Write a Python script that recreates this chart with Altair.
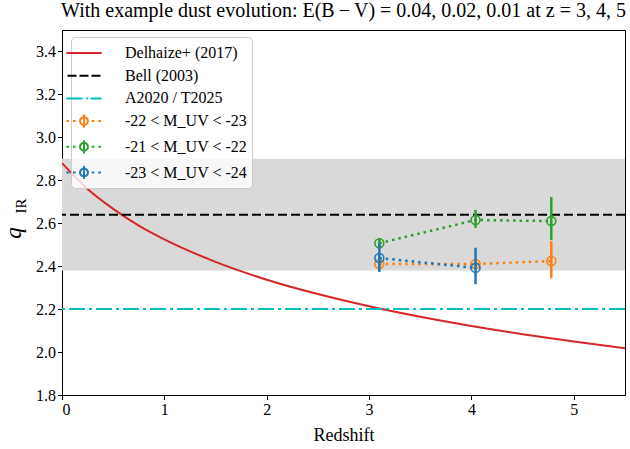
import altair as alt
import pandas as pd

# Delhaize+ (2017) relation sampled along redshift
curve_z = [0.0, 0.25, 0.5, 0.75, 1.0, 1.5, 2.0, 2.5, 3.0, 3.5, 4.0, 4.5, 5.0, 5.5]
curve_q = [2.880, 2.760, 2.667, 2.589, 2.525, 2.420, 2.337, 2.270, 2.213, 2.164,
           2.121, 2.083, 2.049, 2.018]

# Bell (2003) value with its scatter band, and the A2020 / T2025 value
bell_q = 2.64
bell_lo = 2.38
bell_hi = 2.90
a2020_q = 2.20

# Binned measurements (redshift, q_IR, lower and upper error bounds)
orange_z = [3.10, 4.04, 4.78]
orange_q = [2.410, 2.410, 2.424]
orange_lo = [2.392, 2.393, 2.344]
orange_hi = [2.428, 2.427, 2.517]

green_z = [3.10, 4.04, 4.78]
green_q = [2.507, 2.615, 2.610]
green_lo = [2.485, 2.578, 2.522]
green_hi = [2.531, 2.662, 2.722]

blue_z = [3.10, 4.04]
blue_q = [2.438, 2.392]
blue_lo = [2.373, 2.316]
blue_hi = [2.508, 2.486]

labels = [
    "Delhaize+ (2017)",
    "Bell (2003)",
    "A2020 / T2025",
    "-22 < M_UV < -23",
    "-21 < M_UV < -22",
    "-23 < M_UV < -24",
]
colors = ["#d62728", "#000000", "#00bfbf", "#ff7f0e", "#2ca02c", "#1f77b4"]

# legend glyphs as unit-scaled SVG paths
sym_solid = "M-1.6,0H1.6"
sym_dash = "M-1.5,0H-0.68M-0.41,0H0.41M0.68,0H1.5"
sym_dashdot = "M-1.6,0H-0.14M0.2,0H0.38M0.6,0H1.6"
sym_errdot = ("M-1.6,0H-1.36M-1,0H-0.76M0.7,0H0.94M1.3,0H1.54M0,-0.6V0.6"
              "M-0.36,0A0.36,0.36 0 1,0 0.36,0A0.36,0.36 0 1,0 -0.36,0")
shapes = [sym_solid, sym_dash, sym_dashdot, sym_errdot, sym_errdot, sym_errdot]

SERIF = "Liberation Serif"
LEGEND_FONT = "'Liberation Serif', 'Times New Roman', serif"
X_SCALE = alt.Scale(domain=[0, 5.5], nice=False, zero=False)
Y_SCALE = alt.Scale(domain=[1.8, 3.5], nice=False, zero=False)

axis_style = dict(
    grid=False,
    labelFont=SERIF,
    labelFontSize=16,
    labelColor="black",
    titleFont=SERIF,
    titleFontSize=18,
    titleFontWeight="normal",
    titleColor="black",
    tickColor="black",
    tickSize=4.5,
    tickWidth=1,
    domainColor="black",
    domainWidth=1,
    labelPadding=2,
    titlePadding=9,
)
x_axis = alt.Axis(values=[0, 1, 2, 3, 4, 5], format="d", title="Redshift", **axis_style)
y_axis = alt.Axis(values=[1.8, 2.0, 2.2, 2.4, 2.6, 2.8, 3.0, 3.2, 3.4], format=".1f", title=None,
                  **axis_style)

band_df = pd.DataFrame({"z0": [0.0], "z1": [5.5], "lo": [bell_lo], "hi": [bell_hi]})
band = alt.Chart(band_df).mark_rect(color="#d9d9d9").encode(
    x=alt.X("z0:Q", scale=X_SCALE, axis=x_axis),
    x2="z1:Q",
    y=alt.Y("lo:Q", scale=Y_SCALE, axis=y_axis),
    y2="hi:Q",
)

curve_df = pd.DataFrame({"z": curve_z, "q": curve_q})
curve = alt.Chart(curve_df).mark_line(color=colors[0], strokeWidth=2, interpolate="monotone", clip=True).encode(
    x=alt.X("z:Q", scale=X_SCALE),
    y=alt.Y("q:Q", scale=Y_SCALE),
)

bell = alt.Chart(pd.DataFrame({"q": [bell_q]})).mark_rule(
    color=colors[1], strokeWidth=2, strokeDash=[9, 4]
).encode(y=alt.Y("q:Q", scale=Y_SCALE))

a2020 = alt.Chart(pd.DataFrame({"q": [a2020_q]})).mark_rule(
    color=colors[2], strokeWidth=2, strokeDash=[16, 4, 3, 4]
).encode(y=alt.Y("q:Q", scale=Y_SCALE))


def binned(zs, qs, los, his, color):
    df = pd.DataFrame({"z": zs, "q": qs, "lo": los, "hi": his})
    base = alt.Chart(df)
    line = base.mark_line(color=color, strokeWidth=2.5, strokeDash=[2.5, 4]).encode(
        x=alt.X("z:Q", scale=X_SCALE), y=alt.Y("q:Q", scale=Y_SCALE)
    )
    err = base.mark_rule(color=color, strokeWidth=2.5).encode(
        x=alt.X("z:Q", scale=X_SCALE), y=alt.Y("lo:Q", scale=Y_SCALE), y2="hi:Q"
    )
    pts = base.mark_point(color=color, filled=False, size=80, strokeWidth=1.6, opacity=1).encode(
        x=alt.X("z:Q", scale=X_SCALE), y=alt.Y("q:Q", scale=Y_SCALE)
    )
    return [line, err, pts]


legend_def = alt.Legend(
    title=None,
    orient="none",
    legendX=9,
    legendY=7,
    padding=4,
    fillColor="rgba(255,255,255,0.8)",
    strokeColor="#cccccc",
    cornerRadius=4,
    labelFont=LEGEND_FONT,
    labelFontSize=16,
    labelFontWeight="normal",
    labelFontStyle="normal",
    labelColor="black",
    labelLimit=400,
    symbolSize=484,
    symbolStrokeWidth=2,
    symbolOffset=-3,
    labelOffset=29,
    rowPadding=2.7,
    symbolFillColor="transparent",
)

# off-domain points that only carry the legend entries
legend_df = pd.DataFrame({"series": labels, "z": [-1.0] * 6, "q": [2.5] * 6})
legend_layer = alt.Chart(legend_df).mark_point(filled=False, clip=True, opacity=1).encode(
    x=alt.X("z:Q", scale=X_SCALE),
    y=alt.Y("q:Q", scale=Y_SCALE),
    color=alt.Color("series:N", scale=alt.Scale(domain=labels, range=colors), sort=labels, legend=legend_def),
    shape=alt.Shape("series:N", scale=alt.Scale(domain=labels, range=shapes), sort=labels, legend=legend_def),
)

# y-axis title: italic q with IR subscript
q_text = alt.Chart(pd.DataFrame({"t": ["q"]})).mark_text(
    font=SERIF, fontSize=23, fontStyle="italic", angle=270, align="center", baseline="alphabetic"
).encode(text="t:N", x=alt.value(-41), y=alt.value(203))
ir_text = alt.Chart(pd.DataFrame({"t": ["IR"]})).mark_text(
    font=SERIF, fontSize=15, angle=270, align="center", baseline="alphabetic"
).encode(text="t:N", x=alt.value(-36), y=alt.value(176))

layers = [band, curve, bell, a2020]
layers += binned(orange_z, orange_q, orange_lo, orange_hi, colors[3])
layers += binned(green_z, green_q, green_lo, green_hi, colors[4])
layers += binned(blue_z, blue_q, blue_lo, blue_hi, colors[5])
layers += [legend_layer, q_text, ir_text]

chart = alt.layer(*layers).properties(
    width=563,
    height=365,
    view=alt.ViewBackground(stroke="black", strokeWidth=1),
    title=alt.TitleParams(
        "With example dust evolution: E(B\u2009\u2212\u2009V) = 0.04, 0.02, 0.01 at z = 3, 4, 5",
        font=SERIF,
        fontSize=20,
        fontWeight="normal",
        color="black",
        anchor="middle",
        offset=9,
    ),
    autosize=alt.AutoSizeParams(type="none"),
    padding={"left": 62, "top": 30, "right": 5, "bottom": 54},
).configure(
    background="white",
    font=SERIF,
    legend=alt.LegendConfig(labelFont=LEGEND_FONT, labelFontSize=16, labelColor="black"),
    style={"guide-label": {"font": SERIF}},
)

chart.save("out.html", embed_options={"renderer": "svg", "actions": False})
